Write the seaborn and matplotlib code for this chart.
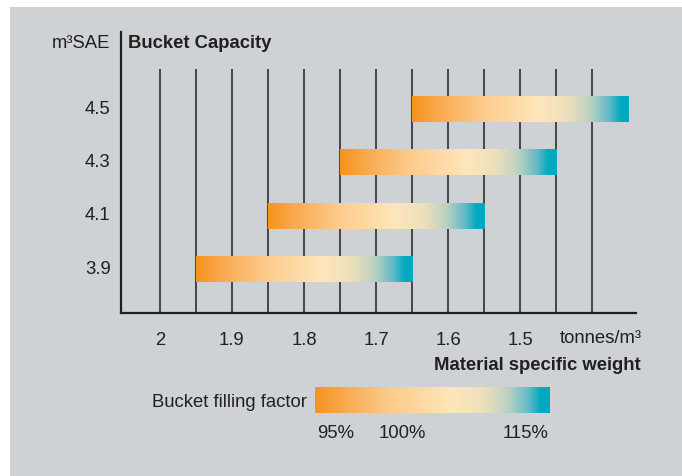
import numpy as np
import pandas as pd
import matplotlib
matplotlib.use("Agg")
import matplotlib.pyplot as plt
import matplotlib.transforms as mtransforms
from matplotlib.colors import LinearSegmentedColormap
from matplotlib.patches import Rectangle
import seaborn as sns

# ---- data ----
capacities = [4.5, 4.3, 4.1, 3.9]              # m3 SAE
weight_high = [1.65, 1.75, 1.85, 1.95]         # tonnes/m3 at 95% fill (left end)
weight_low = [1.35, 1.45, 1.55, 1.65]          # tonnes/m3 at 115% fill (right end)
x_ticks = [2.0, 1.9, 1.8, 1.7, 1.6, 1.5]
x_tick_labels = ["2", "1.9", "1.8", "1.7", "1.6", "1.5"]
grid_x = [2.0, 1.95, 1.9, 1.85, 1.8, 1.75, 1.7, 1.65, 1.6, 1.55, 1.5, 1.45, 1.4]
fill_labels = ["95%", "100%", "115%"]

df = pd.DataFrame({"capacity": capacities, "start": weight_high, "end": weight_low})

BG = "#CED2D5"
INK = "#231F20"

sns.set_theme(style="white")
plt.rcParams["font.family"] = ["Liberation Sans", "DejaVu Sans"]
plt.rcParams["axes.facecolor"] = "none"

cmap = LinearSegmentedColormap.from_list(
    "fill",
    [(0.0, "#F7931E"), (0.12, "#F9A94F"), (0.32, "#FDCB8B"),
     (0.58, "#FFE6BA"), (0.72, "#ECE0BC"), (0.82, "#BED2C2"),
     (0.91, "#63BAC5"), (0.96, "#05AAC1"), (1.0, "#00A8BF")])
grad = np.linspace(0, 1, 256).reshape(1, -1)

W, H = 682, 477
fig = plt.figure(figsize=(W / 100, H / 100), dpi=100)
fig.patch.set_facecolor("white")
fig.patches.append(Rectangle((10 / W, 0), 1, 1 - 8 / H, transform=fig.transFigure,
                             facecolor=BG, edgecolor="none", zorder=-10))

def fx(px):
    return px / W

def fy(py):
    return 1 - py / H

ax = fig.add_axes([fx(121), fy(314), fx(636) - fx(121), fy(33) - fy(314)])

ylo, yhi = 3.735, 4.789
xl, xr = 2.054, 1.339
bar_h = 0.0975

ax.vlines(grid_x, ylo, 4.65, color="#454545", lw=1.4, zorder=1)

for _, r in df.iterrows():
    bars = ax.barh(r["capacity"], r["end"] - r["start"], left=r["start"],
                   height=bar_h, color="none", edgecolor="none", zorder=3)
    patch = bars.patches[0]
    im = ax.imshow(grad, cmap=cmap, aspect="auto", zorder=3,
                   extent=[r["start"], r["end"], r["capacity"] - bar_h / 2,
                           r["capacity"] + bar_h / 2], interpolation="bicubic")
    im.set_clip_path(patch)

ax.set_xlim(xl, xr)
ax.set_ylim(ylo, yhi)
ax.set_xticks(x_ticks)
ax.set_xticklabels(x_tick_labels)
ax.set_yticks(capacities)
ax.set_yticklabels([f"{c:.1f}" for c in capacities])
ax.tick_params(axis="both", length=0, labelsize=13.3, colors=INK)
ax.tick_params(axis="x", pad=13)
ax.tick_params(axis="y", pad=7.5)
off = mtransforms.ScaledTranslation(0, 2 / 72, fig.dpi_scale_trans)
for lbl in ax.get_yticklabels():
    lbl.set_transform(lbl.get_transform() + off)
sns.despine(ax=ax)
for s in ["left", "bottom"]:
    ax.spines[s].set_color(INK)
    ax.spines[s].set_linewidth(1.6)
ax.grid(False)

fig.text(fx(110), fy(43), "m³SAE", ha="right", va="center", fontsize=13.3, color=INK)
fig.text(fx(128), fy(43), "Bucket Capacity", ha="left", va="center", fontsize=13.3,
         fontweight="bold", color=INK)
fig.text(fx(560), fy(339), "tonnes/m³", ha="left", va="center", fontsize=13.3, color=INK)
fig.text(fx(641), fy(366), "Material specific weight", ha="right", va="center",
         fontsize=13.3, fontweight="bold", color=INK)

# legend gradient
lax = fig.add_axes([fx(315), fy(414), fx(550) - fx(315), fy(388) - fy(414)])
lax.imshow(grad, cmap=cmap, aspect="auto", interpolation="bicubic")
lax.axis("off")
fig.text(fx(307), fy(403), "Bucket filling factor", ha="right", va="center",
         fontsize=13.3, color=INK)
fig.text(fx(317), fy(434), fill_labels[0], ha="left", va="center", fontsize=13.3, color=INK)
fig.text(fx(379), fy(434), fill_labels[1], ha="left", va="center", fontsize=13.3, color=INK)
fig.text(fx(549), fy(434), fill_labels[2], ha="right", va="center", fontsize=13.3, color=INK)

fig.savefig("out.png", dpi=100, facecolor=fig.get_facecolor())
